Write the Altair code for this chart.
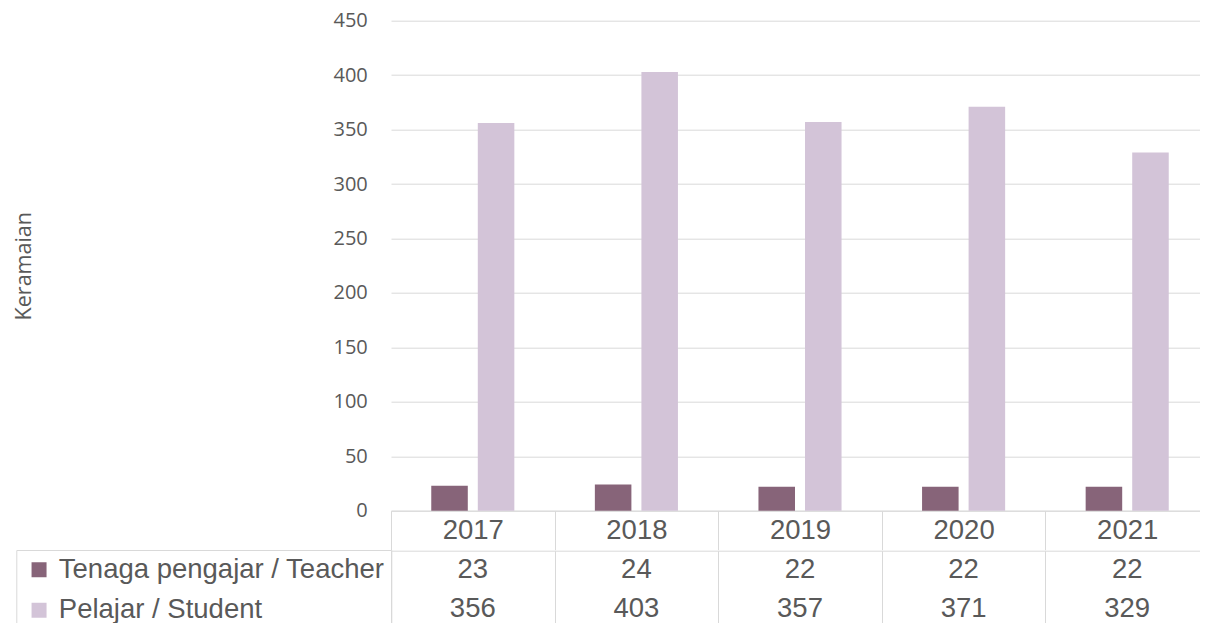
import altair as alt
import pandas as pd

years = ["2017", "2018", "2019", "2020", "2021"]
series = ["Tenaga pengajar / Teacher", "Pelajar / Student"]
teacher = [23, 24, 22, 22, 22]
student = [356, 403, 357, 371, 329]
colors = ["#876479", "#d3c4d8"]
y_ticks = [0, 50, 100, 150, 200, 250, 300, 350, 400, 450]

rows = []
for yr, t, s in zip(years, teacher, student):
    rows.append({"year": yr, "series": series[0], "value": t})
    rows.append({"year": yr, "series": series[1], "value": s})
df = pd.DataFrame(rows)

GRID = "#d9d9d9"
TXT = "#595959"
TFONT = "Liberation Sans"
AFONT = "Open Sans"
FS = 27.5

bars = alt.Chart(df).mark_bar().encode(
    x=alt.X("year:N", sort=years,
            scale=alt.Scale(paddingInner=0, paddingOuter=0),
            axis=alt.Axis(title=None, labelAngle=0, labelFont=TFONT, labelFontSize=FS,
                          labelColor=TXT, labelBaseline="middle", labelPadding=-19.5,
                          tickBand="extent", tickSize=39, tickColor=GRID, tickWidth=1,
                          domainColor=GRID, domainWidth=1, grid=False)),
    xOffset=alt.XOffset("series:N", sort=series,
                        scale=alt.Scale(paddingInner=0.215, paddingOuter=0.865)),
    y=alt.Y("value:Q", scale=alt.Scale(domain=[0, 450], nice=False),
            axis=alt.Axis(title="Keramaian", values=y_ticks, labelFont=AFONT, labelFontSize=20,
                          labelColor=TXT, labelPadding=23.7, domain=False, ticks=False,
                          grid=True, gridColor=GRID, gridWidth=1,
                          titleFont=AFONT, titleFontSize=21.5, titleFontWeight="normal",
                          titleColor=TXT, titleX=-366.7, titleY=245, titleAngle=270,
                          titleAlign="center", titleBaseline="middle")),
    color=alt.Color("series:N", sort=series, scale=alt.Scale(domain=series, range=colors),
                    legend=alt.Legend(orient="none", legendX=-374.7, legendY=529.3, title=None,
                                      symbolType="square", symbolSize=225, symbolStrokeWidth=0,
                                      labelFont=TFONT, labelFontSize=FS, labelColor=TXT,
                                      labelOffset=6, rowPadding=11.5, padding=6, symbolOffset=3,
                                      strokeColor=GRID, labelLimit=500)),
).properties(width=818, height=490)

table = alt.Chart(df).mark_text(font=TFONT, fontSize=FS, color=TXT, baseline="middle").encode(
    x=alt.X("year:N", sort=years, scale=alt.Scale(paddingInner=0, paddingOuter=0),
            axis=alt.Axis(orient="top", title=None, labels=False, ticks=False,
                          domainColor=GRID, domainWidth=1, grid=True, gridColor=GRID,
                          gridWidth=1, tickBand="extent")),
    y=alt.Y("series:N", sort=series, axis=None,
            scale=alt.Scale(paddingInner=0, paddingOuter=0)),
    text=alt.Text("value:Q"),
).properties(width=818, height=78)

chart = alt.vconcat(bars, table, spacing=0).configure_view(stroke=None).properties(
    padding={"left": 5, "top": 2.7, "right": -10, "bottom": -7.7}
)

chart.save("out.html", embed_options={"renderer": "svg", "actions": False})
